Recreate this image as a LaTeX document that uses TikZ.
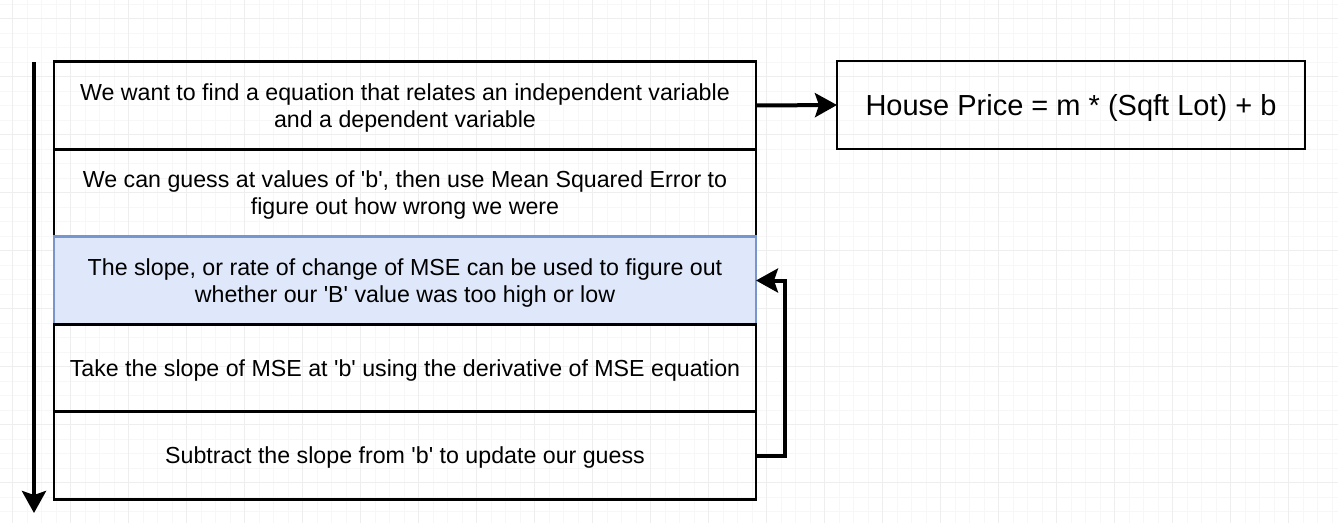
\documentclass[tikz,border=0pt]{standalone}
\usepackage{fontspec}
\setmainfont{Liberation Sans}
\usetikzlibrary{positioning,arrows.meta}
\newcommand{\qb}{\textquotesingle}

\begin{document}
\begin{tikzpicture}[x=1pt,y=-1pt,
    stepbox/.style={draw,line width=2.6pt,outer sep=0pt,inner sep=0pt,minimum width=702pt,minimum height=87.5pt,align=center,text depth=0pt,font=\fontsize{23.2}{27}\selectfont},
    activebox/.style={stepbox,draw={rgb,255:red,120;green,150;blue,205},fill={rgb,255:red,223;green,232;blue,250}},
    pricebox/.style={draw,line width=2.6pt,outer sep=0pt,minimum width=468pt,minimum height=88pt,text depth=0pt,font=\fontsize{29}{32}\selectfont},
    flow/.style={line width=4pt,-{Stealth[length=22pt,width=24pt,inset=4pt]}},
    minorgrid/.style={line width=1pt,color={rgb,255:red,247;green,247;blue,247}},
    majorgrid/.style={line width=1pt,color={rgb,255:red,238;green,238;blue,238}}]
    \useasboundingbox[fill=white] (0,0) rectangle (1338,523);
    % background grid
    \foreach \i in {0,...,92} \draw[minorgrid] ({12.7+14.5*(\i-1)},0) -- ++(0,523);
    \foreach \i in {0,...,36} \draw[minorgrid] (0,{4.2+14.5*\i}) -- ++(1338,0);
    \foreach \i in {0,...,23} \draw[majorgrid] ({12.7+58*\i},0) -- ++(0,523);
    \foreach \i in {0,...,9} \draw[majorgrid] (0,{18.7+58*\i}) -- ++(1338,0);
    % steps
    \node[stepbox] (s1) at (405,105.5) {We want to find a equation that relates an independent variable\\and a dependent variable};
    \node[stepbox,below=0pt of s1] (s2) {We can guess at values of \qb b\qb, then use Mean Squared Error to\\figure out how wrong we were};
    \node[activebox,below=0pt of s2] (s3) {The slope, or rate of change of MSE can be used to figure out\\whether our \qb B\qb{} value was too high or low};
    \node[stepbox,below=0pt of s3] (s4) {Take the slope of MSE at \qb b\qb{} using the derivative of MSE equation};
    \node[stepbox,below=0pt of s4] (s5) {Subtract the slope from \qb b\qb{} to update our guess};
    \node[pricebox] (price) at (1071,105) {House Price = m * (Sqft Lot) + b};
    % arrows
    \coordinate (top) at (34,62);
    \coordinate (bottom) at (34,513);
    \draw[flow] (top) -- (bottom);
    \draw[flow] (s1.east) -- (price.west);
    \draw[flow] (s5.east) -- ++(29,0) |- (s3.east);
\end{tikzpicture}
\end{document}
